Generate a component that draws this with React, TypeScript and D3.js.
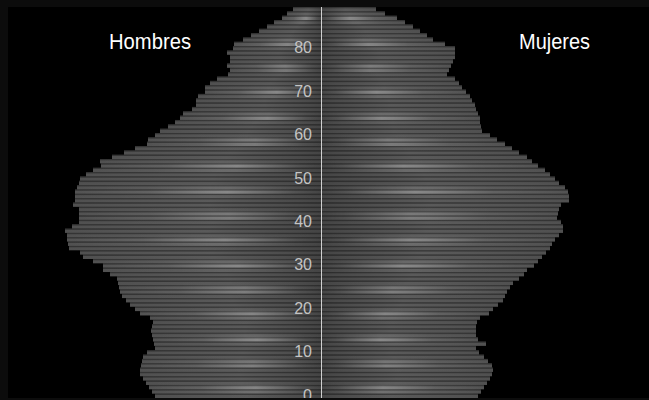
import React, { useEffect } from "react";
import * as d3 from "d3";

// Ages 0..89 (one bar per single year of age)
const AGES: number[] = d3.range(0, 90);

// Hombres (left side), age 0..89
const HOMBRES: number[] = [
  166, 169, 172, 175, 178, 181, 181, 180, 179, 178,
  174, 166, 167, 168, 169, 170, 169, 168, 171, 181,
  186, 191, 195, 199, 201, 202, 203, 204, 211, 218,
  218, 228, 238, 241, 252, 253, 254, 254, 256, 249,
  242, 242, 242, 242, 248, 246, 246, 246, 244, 242,
  241, 235, 228, 220, 221, 209, 197, 186, 174, 173,
  166, 161, 153, 146, 141, 138, 129, 125, 125, 123,
  116, 116, 111, 104, 93, 91, 94, 91, 91, 94,
  88, 87, 78, 70, 62, 54, 47, 39, 34, 28,
];

// Mujeres (right side), age 0..89
const MUJERES: number[] = [
  157, 160, 163, 166, 169, 171, 172, 171, 167, 163,
  158, 155, 165, 157, 155, 155, 155, 156, 159, 168,
  172, 177, 182, 184, 186, 189, 192, 198, 203, 206,
  213, 217, 221, 225, 229, 231, 234, 238, 242, 242,
  240, 236, 237, 238, 240, 248, 248, 247, 244, 238,
  234, 229, 224, 217, 211, 206, 198, 191, 184, 176,
  169, 161, 160, 159, 159, 157, 155, 154, 151, 149,
  145, 141, 138, 134, 126, 128, 130, 132, 134, 134,
  134, 124, 112, 106, 99, 92, 84, 76, 64, 55,
];

const AGE_TICKS: number[] = [0, 10, 20, 30, 40, 50, 60, 70, 80];
const SIDE_LABELS: string[] = ["Hombres", "Mujeres"];

const W = 641;
const H = 391;
const CX = 313;

export default function App() {
  useEffect(() => {
    document.body.style.background = "#0c0c0c";
  }, []);

  const y = d3.scaleBand<number>().domain(AGES).range([H, 0]).paddingInner(0);
  const x = d3.scaleLinear().domain([0, 320]).range([0, 320]);
  const step = y.bandwidth();

  // highlight bands (rendering sheen) in page coords
  const period = 24.67;
  const phase = 18.3 - 7;
  const sheen = (yc: number) => {
    const t = (((yc - phase) % period) + period) % period;
    const d = Math.min(t, period - t);
    return Math.exp(-(d * d) / (2 * 2.6 * 2.6));
  };

  return (
    <svg
      width={W}
      height={H}
      style={{ position: "absolute", left: 8, top: 7, display: "block" }}
    >
      <defs>
        <linearGradient id="baseL" x1="0" x2="1" y1="0" y2="0">
          <stop offset="0" stopColor="#505050" />
          <stop offset="0.55" stopColor="#5a5a5a" />
          <stop offset="0.9" stopColor="#4a4a4a" />
          <stop offset="1" stopColor="#444444" />
        </linearGradient>
        <linearGradient id="baseR" x1="1" x2="0" y1="0" y2="0">
          <stop offset="0" stopColor="#505050" />
          <stop offset="0.55" stopColor="#5a5a5a" />
          <stop offset="0.9" stopColor="#4a4a4a" />
          <stop offset="1" stopColor="#444444" />
        </linearGradient>
        <linearGradient id="hlL" x1="0" x2="1" y1="0" y2="0">
          <stop offset="0" stopColor="#ffffff" stopOpacity="0.05" />
          <stop offset="0.3" stopColor="#ffffff" stopOpacity="0.25" />
          <stop offset="0.62" stopColor="#ffffff" stopOpacity="1" />
          <stop offset="0.9" stopColor="#ffffff" stopOpacity="0.15" />
          <stop offset="1" stopColor="#ffffff" stopOpacity="0" />
        </linearGradient>
        <linearGradient id="hlR" x1="1" x2="0" y1="0" y2="0">
          <stop offset="0" stopColor="#ffffff" stopOpacity="0.05" />
          <stop offset="0.3" stopColor="#ffffff" stopOpacity="0.25" />
          <stop offset="0.62" stopColor="#ffffff" stopOpacity="1" />
          <stop offset="0.9" stopColor="#ffffff" stopOpacity="0.15" />
          <stop offset="1" stopColor="#ffffff" stopOpacity="0" />
        </linearGradient>
      </defs>
      <rect x={0} y={0} width={W} height={H} fill="#000000" />
      {AGES.map((age, i) => {
        const y0 = y(age) as number;
        const wl = x(HOMBRES[i]);
        const wr = x(MUJERES[i]);
        const s = sheen(y0 + step / 2);
        return (
          <g key={age}>
            <rect x={CX - wl} y={y0} width={wl} height={step} fill="url(#baseL)" />
            <rect x={CX} y={y0} width={wr} height={step} fill="url(#baseR)" />
            <rect x={CX - wl} y={y0} width={wl} height={step} fill="url(#hlL)" opacity={0.3 * s} />
            <rect x={CX} y={y0} width={wr} height={step} fill="url(#hlR)" opacity={0.3 * s} />
            <rect x={CX - wl} y={y0} width={wl + wr} height={1.3} fill="#000000" opacity={0.35} />
          </g>
        );
      })}
      <line x1={CX + 0.5} x2={CX + 0.5} y1={0} y2={H} stroke="#d0d0d0" strokeWidth={1} />
      {AGE_TICKS.map((t) => (
        <text
          key={t}
          x={304}
          y={(y(t) as number) + step / 2 + 5}
          textAnchor="end"
          fontFamily="Liberation Sans, Arial, sans-serif"
          fontSize={16}
          fill="#c4c4c4"
        >
          {t}
        </text>
      ))}
      <text
        x={101}
        y={41.5}
        fontFamily="Liberation Sans, Arial, sans-serif"
        fontSize={22}
        fill="#ffffff"
        textLength={82}
        lengthAdjust="spacingAndGlyphs"
      >
        {SIDE_LABELS[0]}
      </text>
      <text
        x={511}
        y={42}
        fontFamily="Liberation Sans, Arial, sans-serif"
        fontSize={22}
        fill="#ffffff"
        textLength={71}
        lengthAdjust="spacingAndGlyphs"
      >
        {SIDE_LABELS[1]}
      </text>
    </svg>
  );
}
